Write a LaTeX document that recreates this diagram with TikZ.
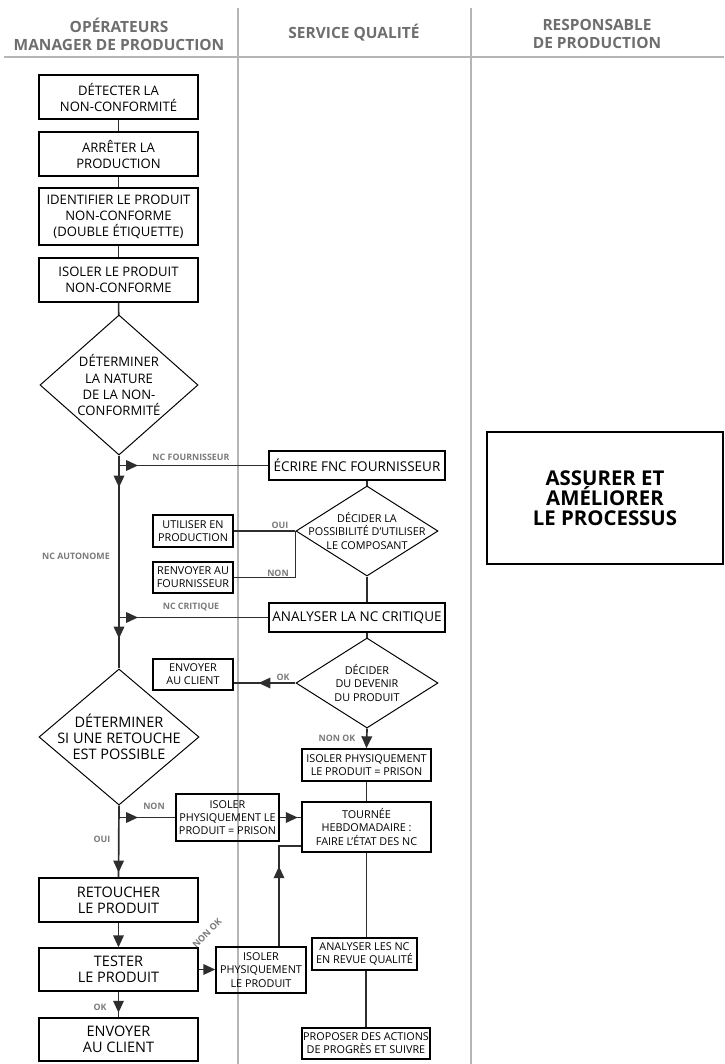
\documentclass[tikz,border=0pt]{standalone}
\usepackage{fontspec}
\setmainfont{Open Sans}
\usetikzlibrary{shapes,arrows.meta,decorations.markings,calc}

\definecolor{trait}{HTML}{2E2E2E}
\definecolor{gristitre}{HTML}{6E6E6E}
\definecolor{grislabel}{HTML}{7A7A7A}
\definecolor{grissep}{HTML}{B5B5B5}

\tikzset{
  pointe/.tip={Triangle[length=8.5pt,width=7.5pt]},
  boite/.style={draw, line width=1pt, inner sep=0pt, align=center},
  losange/.style={draw, diamond, line width=0.7pt, inner sep=0pt},
  lien/.style={draw=trait, line width=1.2pt},
  fleche/.style={decoration={markings, mark=at position #1 with {\arrow{pointe}}}, postaction={decorate}},
  fleches/.style 2 args={decoration={markings, mark=at position #1 with {\arrow{pointe}}, mark=at position #2 with {\arrow{pointe}}}, postaction={decorate}},
  etiq/.style={text=grislabel, font=\fontsize{6.3}{7}\selectfont\bfseries, inner sep=0pt},
  titre/.style={text=gristitre, font=\fontsize{11}{12.8}\selectfont\bfseries, align=center},
  txtgrand/.style={font=\fontsize{10.3}{11.3}\selectfont},
  txtmoyen/.style={font=\fontsize{9.6}{11}\selectfont},
  txtnormal/.style={font=\fontsize{9.3}{11.4}\selectfont},
  txtpetit/.style={font=\fontsize{7.7}{9.4}\selectfont},
}

\begin{document}
\begin{tikzpicture}[x=0.025cm,y=-0.025cm]
\useasboundingbox (0,0) rectangle (724,1064);

% couloirs
\draw[grissep, line width=1pt] (238,8) -- (238,1064) (471,8) -- (471,1064) (4,57) -- (724,57);
\node[titre] (tope) at (119,34) {OPÉRATEURS\\MANAGER DE PRODUCTION};
\node[titre] (tqual) at (354,33) {SERVICE QUALITÉ};
\node[titre] (tresp) at (597,34) {RESPONSABLE\\DE PRODUCTION};

% operateurs
\node[boite, txtnormal, minimum width=3.975cm, minimum height=1.1cm] (detect) at (118.5,97) {DÉTECTER LA\\NON-CONFORMITÉ};
\node[boite, txtnormal, minimum width=3.975cm, minimum height=1.1cm] (arret) at (118.5,154) {ARRÊTER LA\\PRODUCTION};
\node[boite, txtnormal, minimum width=3.975cm, minimum height=1.425cm] (ident) at (118.5,216.5) {IDENTIFIER LE PRODUIT\\NON-CONFORME\\(DOUBLE ÉTIQUETTE)};
\node[boite, txtnormal, minimum width=3.975cm, minimum height=1.1cm] (isol) at (118.5,280) {ISOLER LE PRODUIT\\NON-CONFORME};
\node[losange, minimum width=3.95cm, minimum height=3.5cm,
  label={[txtnormal, align=center]center:DÉTERMINER\\LA NATURE\\DE LA NON-\\CONFORMITÉ}] (nature) at (119,385) {};
\node[losange, minimum width=4cm, minimum height=3.4cm,
  label={[txtgrand, align=center]center:DÉTERMINER\\SI UNE RETOUCHE\\EST POSSIBLE}] (retouche) at (119,737) {};
\node[boite, txtgrand, minimum width=3.975cm, minimum height=1.1cm] (retoucher) at (118.5,900) {RETOUCHER\\LE PRODUIT};
\node[boite, txtgrand, minimum width=3.975cm, minimum height=1.075cm] (tester) at (118.5,969.5) {TESTER\\LE PRODUIT};
\node[boite, txtgrand, minimum width=3.975cm, minimum height=1.075cm] (envoyerb) at (118.5,1039.5) {ENVOYER\\AU CLIENT};

% service qualite
\node[boite, txtmoyen, minimum width=4.4cm, minimum height=0.725cm] (ecrire) at (357,465.5) {ÉCRIRE FNC FOURNISSEUR};
\node[losange, minimum width=3.55cm, minimum height=2.25cm,
  label={[txtpetit, align=center]center:DÉCIDER LA\\POSSIBILITÉ D’UTILISER\\LE COMPOSANT}] (decidea) at (367,531) {};
\node[boite, txtpetit, minimum width=2cm, minimum height=0.8cm] (utiliser) at (193,531) {UTILISER EN\\PRODUCTION};
\node[boite, txtpetit, minimum width=2cm, minimum height=0.775cm] (renvoyer) at (193,577.5) {RENVOYER AU\\FOURNISSEUR};
\node[boite, txtmoyen, minimum width=4.4cm, minimum height=0.725cm] (analyser) at (357,617.5) {ANALYSER LA NC CRITIQUE};
\node[losange, minimum width=3.55cm, minimum height=2.25cm,
  label={[txtpetit, align=center]center:DÉCIDER\\DU DEVENIR\\DU PRODUIT}] (decideb) at (367,683) {};
\node[boite, txtpetit, minimum width=2cm, minimum height=0.775cm] (envoyera) at (193,674.5) {ENVOYER\\AU CLIENT};
\node[boite, txtpetit, minimum width=3.225cm, minimum height=0.8cm] (isolp) at (366.5,765) {ISOLER PHYSIQUEMENT\\LE PRODUIT = PRISON};
\node[boite, txtpetit, minimum width=3.225cm, minimum height=1.25cm] (tournee) at (366.5,827) {TOURNÉE\\HEBDOMADAIRE :\\FAIRE L’ÉTAT DES NC};
\node[boite, txtpetit, minimum width=2.575cm, minimum height=1.175cm] (prison) at (227.5,817.5) {ISOLER\\PHYSIQUEMENT LE\\PRODUIT = PRISON};
\node[boite, txtpetit, minimum width=2.25cm, minimum height=1.15cm] (isolprod) at (261,970) {ISOLER\\PHYSIQUEMENT\\LE PRODUIT};
\node[boite, txtpetit, minimum width=2.625cm, minimum height=0.8cm] (analysernc) at (364.5,954) {ANALYSER LES NC\\EN REVUE QUALITÉ};
\node[boite, txtpetit, minimum width=3.2cm, minimum height=0.775cm] (proposer) at (366,1043.5) {PROPOSER DES ACTIONS\\DE PROGRÈS ET SUIVRE};

% responsable
\node[boite, font=\fontsize{14.5}{14.4}\selectfont\bfseries, minimum width=5.9cm, minimum height=3.3cm] (assurer) at (605,498) {ASSURER ET\\AMÉLIORER\\LE PROCESSUS};

% liens
\draw[lien] (detect) -- (arret);
\draw[lien] (arret) -- (ident);
\draw[lien] (ident) -- (isol);
\draw[lien] (isol) -- (nature);
\draw[lien, fleches={0.8cm}{4.575cm}] (nature.south) -- (retouche.north);
\draw[lien, fleche=0.475cm] (nature.south |- ecrire.west) -- (ecrire.west);
\draw[lien, fleche=0.475cm] (nature.south |- analyser.west) -- (analyser.west);
\node[etiq] (lfour) at (191,457) {NC FOURNISSEUR};
\node[etiq] (lcrit) at (191,607) {NC CRITIQUE};
\node[etiq] (lauto) at (76,556) {NC AUTONOME};

\draw[lien] (decidea.north |- ecrire.south) -- (decidea.north);
\draw[lien] (decidea.south) -- (decidea.south |- analyser.north);
\draw[lien] (utiliser.east) -- (decidea.west);
\draw[lien] (renvoyer.east) -| (decidea.west);
\node[etiq] (loui) at (280,525) {OUI};
\node[etiq] (lnon) at (278,573) {NON};
\draw[lien] (decideb.north |- analyser.south) -- (decideb.north);
\draw[lien, fleche=0.925cm] (decideb.west) -- (decideb.west -| envoyera.east);
\node[etiq] (lok) at (283,677) {OK};
\draw[lien, -{pointe}] (decideb.south) -- (isolp.north);
\node[etiq] (lnonok) at (337,738) {NON OK};
\draw[lien] (isolp) -- (tournee);
\draw[lien] (tournee.south) -- (tournee.south |- analysernc.north);
\draw[lien] (proposer.north |- analysernc.south) -- (proposer.north);

\draw[lien, fleche=1.675cm] (retouche.south) -- (retoucher.north);
\draw[lien, fleche=0.475cm] (retouche.south |- prison.west) -- (prison.west);
\node[etiq] (lnonb) at (154,806) {NON};
\node[etiq] (louib) at (102,839) {OUI};
\draw[lien, fleche=0.45cm] (prison.east) -- (prison.east -| tournee.west);
\draw[lien, -{pointe}] (retoucher) -- (tester);
\draw[lien, fleche=0.525cm] (tester) -- (envoyerb);
\node[etiq] (lokb) at (100,1007) {OK};
\draw[lien, -{pointe}] (tester.east) -- (tester.east -| isolprod.west);
\node[etiq, rotate=45] (lnonokb) at (207,933) {NON OK};
\draw[lien, fleche=2cm] ([xshift=0.45cm]isolprod.north) |- ([yshift=-0.475cm]tournee.west);
\end{tikzpicture}
\end{document}
